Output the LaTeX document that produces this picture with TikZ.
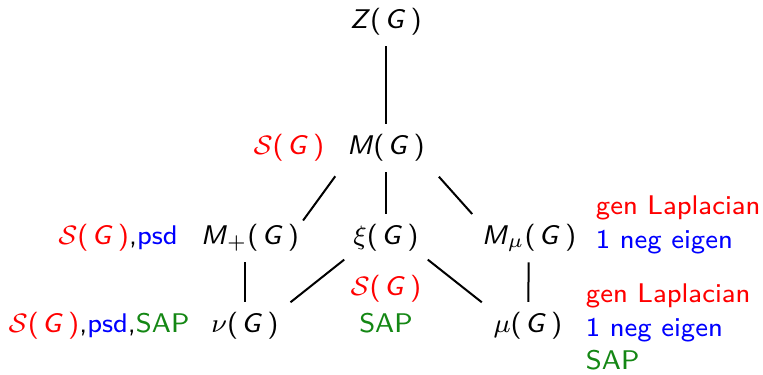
\documentclass[tikz,border=0pt]{standalone}
\usepackage{xcolor}
\definecolor{sapgreen}{RGB}{20,135,20}
\newcommand{\Gp}{(\kern.12em\textsl{G}\kern.2em)}
\begin{document}
\begin{tikzpicture}[x=0.3pt,y=-0.3pt,
  every node/.style={font=\sffamily\fontsize{8.1}{10}\selectfont, inner sep=1pt},
  conn/.style={line width=0.6pt},
  redl/.style={text=red},
  grnl/.style={text=sapgreen}]
\useasboundingbox (0,0) rectangle (763,375);
\node (Z) at (386,22) {\textsl{Z}\Gp};
\node (M) at (386,148) {\textsl{M}\Gp};
\node[redl] (SM) at (289,148) {$\mathcal{S}$\Gp};
\node (Mp) at (250,238) {\textsl{M}$_{+}$\Gp};
\node (xi) at (386,238) {$\xi$\Gp};
\node (Mmu) at (529,238) {\textsl{M}$_{\mu}$\Gp};
\node (Lp) at (118,238) {\textcolor{red}{$\mathcal{S}$\Gp},\textcolor{blue}{psd}};
\node[anchor=west, align=left] (Rmu) at (592,225) {\textcolor{red}{gen Laplacian}\\\textcolor{blue}{1 neg eigen}};
\node (nu) at (245,326) {$\nu$\Gp};
\node (mu) at (528,326) {$\mu$\Gp};
\node[redl] (Sxi) at (386,289) {$\mathcal{S}$\Gp};
\node[grnl] (SAPxi) at (386,323) {SAP};
\node (Lnu) at (99,326) {\textcolor{red}{$\mathcal{S}$\Gp},\textcolor{blue}{psd},\textcolor{sapgreen}{SAP}};
\node[anchor=west, align=left] (Rm) at (582,327) {\textcolor{red}{gen Laplacian}\\\textcolor{blue}{1 neg eigen}\\\textcolor{sapgreen}{SAP}};
\draw[conn, shorten <=2pt, shorten >=2pt] (Z) -- (M);
\draw[conn, shorten <=4pt, shorten >=0pt] (M.south west) -- (Mp.north east);
\draw[conn, shorten <=2pt, shorten >=2pt] (M) -- (xi);
\draw[conn, shorten <=4.5pt, shorten >=2.5pt] (M.south east) -- (Mmu.north west);
\draw[conn, shorten <=2pt, shorten >=2pt] (nu.north |- Mp.south) -- (nu.north);
\draw[conn, shorten <=2pt, shorten >=2pt] (Mmu) -- (mu);
\draw[conn, shorten <=2pt, shorten >=3pt] (xi.south west) -- (nu.north east);
\draw[conn, shorten <=2pt, shorten >=3pt] (xi.south east) -- (mu.north west);
\end{tikzpicture}
\end{document}
